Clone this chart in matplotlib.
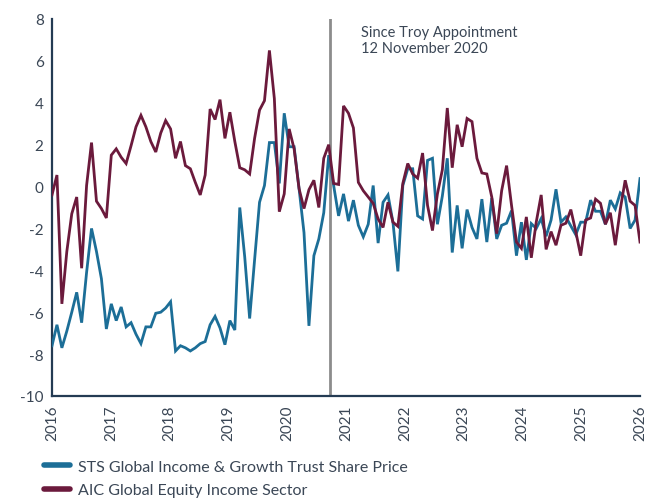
import matplotlib
matplotlib.use("Agg")
import matplotlib.pyplot as plt
import matplotlib.dates as mdates
import pandas as pd
from matplotlib.lines import Line2D

plt.rcParams['font.family'] = ['Lato', 'DejaVu Sans']

series_names = ["STS Global Income & Growth Trust Share Price",
                "AIC Global Equity Income Sector"]

sts_values = [
    -7.6, -6.6, -7.7, -6.9, -6.0, -5.05, -6.5, -4.1, -2.0, -3.1, -4.4, -6.8,
    -5.6, -6.4, -5.75, -6.7, -6.5, -7.05, -7.5, -6.7, -6.7, -6.05, -6.0, -5.8,
    -5.5, -7.85, -7.6, -7.7, -7.85, -7.7, -7.5, -7.4, -6.6, -6.2, -6.75, -7.55,
    -6.4, -6.85, -1.0, -3.35, -6.3, -3.5, -0.75, 0.05, 2.1, 2.1, 0.15, 3.5,
    1.9, 1.9, -0.1, -2.2, -6.65, -3.3, -2.5, -1.25, 1.5, 0.05, -1.4, -0.35,
    -1.65, -0.65, -1.85, -2.4, -1.8, 0.05, -2.7, -0.75, -0.4, -1.7, -4.05, 0.05,
    0.85, 0.85, -1.4, -1.55, 1.25, 1.35, -1.8, -0.45, 1.35, -3.15, -0.9, -2.95,
    -1.1, -1.95, -2.5, -0.6, -2.65, -0.55, -2.5, -1.85, -1.75, -1.15, -3.3, -1.7,
    -3.5, -1.77, -2.0, -1.53, -2.37, -1.6, -0.13, -1.7, -1.45, -1.88, -2.3, -1.7,
    -1.7, -0.65, -1.18, -1.18, -1.8, -0.65, -1.07, -0.3, -0.5, -2.0, -1.6, 0.38,
]

aic_values = [
    -0.4, 0.55, -5.6, -3.1, -1.3, -0.5, -3.9, 0.05, 2.1, -0.7, -1.05, -1.5,
    1.5, 1.8, 1.4, 1.1, 1.95, 2.85, 3.4, 2.85, 2.15, 1.65, 2.55, 3.15,
    2.75, 1.35, 2.15, 1.0, 0.85, 0.2, -0.4, 0.55, 3.7, 3.2, 4.15, 2.3,
    3.55, 2.15, 0.9, 0.8, 0.6, 2.3, 3.65, 4.1, 6.5, 4.2, -1.2, -0.35,
    2.75, 1.8, -0.1, -1.05, -0.15, 0.3, -1.0, 1.35, 2.0, 0.15, 0.1, 3.85,
    3.5, 2.8, 0.2, -0.2, -0.5, -0.8, -1.55, -1.95, -0.75, -1.7, -1.9, 0.15,
    1.1, 0.6, 0.4, 1.6, -0.9, -2.1, -0.35, 0.8, 3.75, 0.9, 2.95, 1.9,
    3.25, 3.1, 1.35, 0.65, 0.6, -0.5, -2.25, -0.2, 1.0, -0.9, -2.65, -2.95,
    -1.45, -3.4, -1.7, -0.4, -3.0, -2.15, -2.8, -1.85, -1.75, -1.1, -2.15, -3.3,
    -1.6, -1.5, -0.6, -0.8, -1.8, -1.25, -2.8, -1.1, 0.3, -0.7, -0.9, -2.65,
]

start_date = "2016-01-01"
end_date = "2026-01-01"
year_labels = [str(y) for y in range(2016, 2027)]
y_ticks = [8, 6, 4, 2, 0, -2, -4, -6, -8, -10]
troy_date = "2020-09-20"
annotation = "Since Troy Appointment\n12 November 2020"

dates = pd.date_range(start_date, end_date, periods=len(sts_values))

BLUE = "#1c6e97"
PURPLE = "#6b1a3c"
AXIS = "#243b53"
TEXT = "#3b4756"

fig = plt.figure(figsize=(6.51, 5.02), dpi=100)
ax = fig.add_axes([52/651, 1 - 397/502, 588/651, 377/502])

ax.plot(dates, sts_values, color=BLUE, lw=2.0, solid_joinstyle='miter', zorder=3)
ax.plot(dates, aic_values, color=PURPLE, lw=2.0, solid_joinstyle='miter', zorder=3)
ax.axvline(pd.Timestamp(troy_date), color="#8c8c8c", lw=2.0, zorder=2)

ax.set_ylim(-10, 8)
ax.set_yticks(y_ticks)
ax.set_yticklabels([str(v) for v in y_ticks])
ax.set_xlim(pd.Timestamp(start_date), pd.Timestamp(end_date))
year_ticks = pd.to_datetime([f"{y}-01-01" for y in year_labels])
ax.set_xticks(year_ticks)
ax.set_xticklabels(year_labels, rotation=90)

for s in ["top", "right"]:
    ax.spines[s].set_visible(False)
for s in ["left", "bottom"]:
    ax.spines[s].set_color(AXIS)
    ax.spines[s].set_linewidth(1.6)
ax.tick_params(axis='both', length=0, labelsize=11, colors=TEXT, pad=6)

ax.text(pd.Timestamp("2021-04-01"), 7.7, annotation, fontsize=10.5,
        color=TEXT, va='top', ha='left', linespacing=1.15)

handles = [Line2D([], [], color=BLUE, lw=4, solid_capstyle='round'),
           Line2D([], [], color=PURPLE, lw=4, solid_capstyle='round')]
fig.legend(handles, series_names, loc='upper left',
           bbox_to_anchor=(38/651, 1 - 454/502), frameon=False,
           fontsize=11.5, handlelength=1.6, handletextpad=0.5,
           labelspacing=0.6, borderaxespad=0, labelcolor=TEXT)

fig.savefig("out.png", dpi=100)
